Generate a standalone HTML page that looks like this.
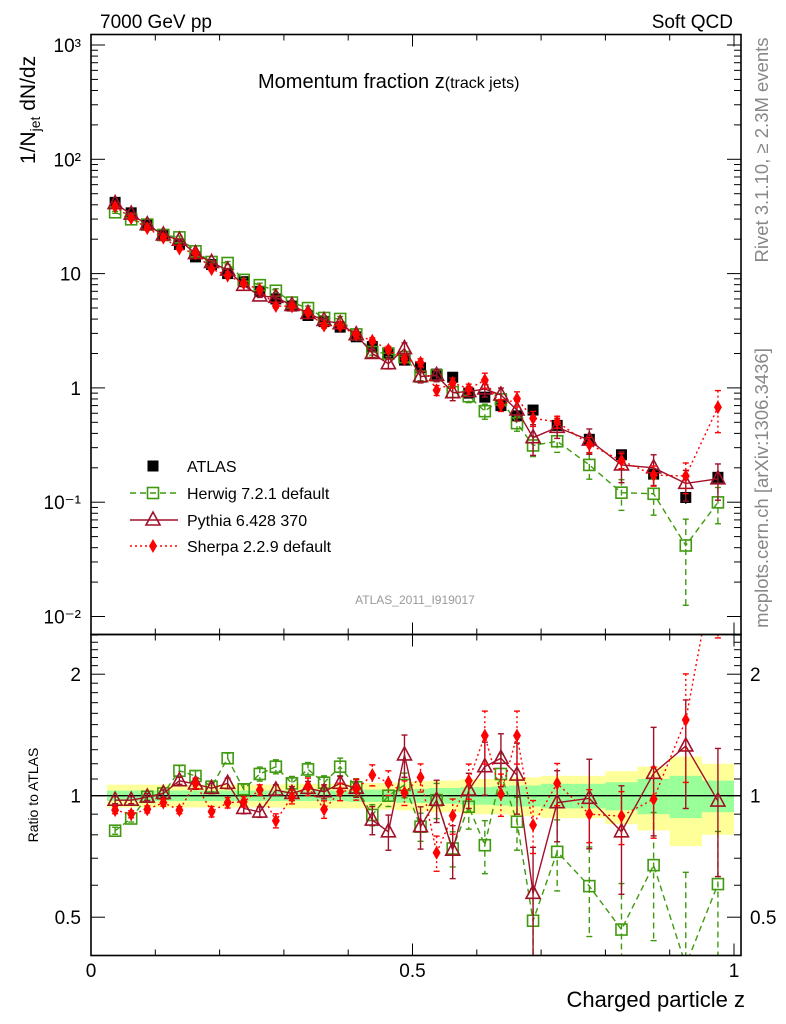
<!DOCTYPE html>
<html><head><meta charset="utf-8"><style>
html,body{margin:0;padding:0;background:#fff;width:786px;height:1024px;overflow:hidden;}
svg{display:block;font-family:"Liberation Sans",sans-serif;}
</style></head><body>
<svg id="chart" width="786" height="1024" viewBox="0 0 786 1024" xmlns="http://www.w3.org/2000/svg">
<text x="100" y="28" font-size="19">7000 GeV pp</text>
<text x="733" y="28" font-size="19" text-anchor="end">Soft QCD</text>
<text x="258" y="88" font-size="20">Momentum fraction <tspan font-size="20">z</tspan><tspan font-size="16">(track jets)</tspan></text>
<text x="415" y="604" font-size="12" fill="#999" text-anchor="middle">ATLAS_2011_I919017</text>
<text transform="translate(768,150) rotate(-90)" font-size="18.5" fill="#888" text-anchor="middle">Rivet 3.1.10, ≥ 2.3M events</text>
<text transform="translate(768,488) rotate(-90)" font-size="18.5" fill="#888" text-anchor="middle">mcplots.cern.ch [arXiv:1306.3436]</text>
<text transform="translate(35,110) rotate(-90)" font-size="21" text-anchor="middle">1/N<tspan font-size="14" dy="5">jet</tspan><tspan dy="-5"> dN/dz</tspan></text>
<text transform="translate(38,795) rotate(-90)" font-size="14" text-anchor="middle">Ratio to ATLAS</text>
<text x="745" y="1007" font-size="22" text-anchor="end">Charged particle z</text>
<g id="bands"></g><g id="marks"></g><g id="axes"></g><g id="legend"></g>
</svg>
<script>
const zBins=[0.0375,0.0625,0.0875,0.1125,0.1375,0.1625,0.1875,0.2125,0.2375,0.2625,0.2875,0.3125,0.3375,0.3625,0.3875,0.4125,0.4375,0.4625,0.4875,0.5125,0.5375,0.5625,0.5875,0.6125,0.6375,0.6625,0.6875,0.725,0.775,0.825,0.875,0.925,0.975];
const binHalf=[0.0125,0.0125,0.0125,0.0125,0.0125,0.0125,0.0125,0.0125,0.0125,0.0125,0.0125,0.0125,0.0125,0.0125,0.0125,0.0125,0.0125,0.0125,0.0125,0.0125,0.0125,0.0125,0.0125,0.0125,0.0125,0.0125,0.0125,0.025,0.025,0.025,0.025,0.025,0.025];
const atlas=[42,34,27,21.5,18,14,12,10,8.5,7,6,5.2,4.3,3.8,3.4,2.8,2.3,2.0,1.75,1.5,1.32,1.24,0.9,0.83,0.7,0.57,0.64,0.47,0.355,0.26,0.176,0.11,0.165];
const statErr=[0.03,0.03,0.03,0.03,0.03,0.03,0.03,0.03,0.03,0.03,0.03,0.03,0.03,0.03,0.03,0.035,0.035,0.035,0.04,0.04,0.045,0.045,0.05,0.05,0.055,0.06,0.06,0.07,0.07,0.08,0.1,0.12,0.09];
const totErr=[0.065,0.065,0.065,0.065,0.065,0.065,0.065,0.065,0.065,0.065,0.065,0.07,0.07,0.07,0.07,0.07,0.075,0.075,0.08,0.085,0.09,0.09,0.1,0.1,0.1,0.11,0.11,0.12,0.12,0.15,0.18,0.25,0.2];
const herwigRatio=[0.819,0.878,0.994,1.013,1.153,1.119,1.053,1.238,1.037,1.132,1.18,1.073,1.162,1.077,1.18,1.049,0.896,1.0,1.063,0.838,0.975,0.74,0.939,0.754,1.132,0.862,0.49,0.726,0.597,0.466,0.673,0.38,0.604];
const herwigErr=[0.02,0.02,0.02,0.02,0.03,0.03,0.03,0.03,0.03,0.04,0.04,0.04,0.04,0.04,0.05,0.05,0.06,0.06,0.07,0.08,0.1,0.1,0.12,0.15,0.12,0.15,0.2,0.2,0.25,0.3,0.35,0.7,0.35];
const pythiaRatio=[0.975,0.975,0.992,1.013,1.089,1.069,1.043,1.073,0.93,0.911,1.033,1.013,1.043,1.023,1.073,1.043,0.87,0.814,1.262,0.838,0.975,0.733,1.033,1.18,1.238,1.125,0.573,0.961,0.985,0.814,1.136,1.328,0.97];
const pythiaErr=[0.02,0.02,0.02,0.02,0.02,0.03,0.03,0.03,0.03,0.03,0.03,0.04,0.04,0.04,0.04,0.05,0.08,0.1,0.12,0.12,0.12,0.15,0.1,0.15,0.15,0.2,0.3,0.2,0.25,0.3,0.3,0.3,0.35];
const sherpaRatio=[0.921,0.9,0.925,0.961,0.921,1.073,0.913,0.961,0.966,1.033,0.867,0.994,1.053,0.925,1.023,1.037,1.125,1.077,1.017,1.11,0.722,0.892,1.089,1.409,1.01,1.409,0.846,1.073,0.9,0.89,0.981,1.541,4.1];
const sherpaErr=[0.02,0.02,0.02,0.02,0.02,0.03,0.03,0.03,0.03,0.03,0.04,0.04,0.05,0.05,0.05,0.06,0.06,0.07,0.07,0.08,0.1,0.1,0.1,0.15,0.12,0.15,0.15,0.12,0.15,0.15,0.2,0.3,0.4];
const mainTicks=["10³","10²","10","1","10⁻¹","10⁻²"];
const ratioTicks=[2,1,0.5];

const NS="http://www.w3.org/2000/svg";
const X0=91,X1=741,PX=643;
const MT=34.5,MB=634.5,RT=634.5,RB=955.5;
const xs=z=>X0+z*PX;
const ym=v=>45+(3-Math.log10(v))*114.3;
const yr=r=>795.7-Math.log2(r)*121.5;
function mk(tag,attrs,parent){const e=document.createElementNS(NS,tag);for(const k in attrs)e.setAttribute(k,attrs[k]);parent.appendChild(e);return e;}
const svg=document.getElementById('chart');
const defs=mk('defs',{},svg);
const cp1=mk('clipPath',{id:'clipMain'},defs);mk('rect',{x:X0,y:MT,width:X1-X0,height:MB-MT},cp1);
const cp2=mk('clipPath',{id:'clipRatio'},defs);mk('rect',{x:X0,y:RT,width:X1-X0,height:RB-RT},cp2);
const bands=document.getElementById('bands');
const marks=document.getElementById('marks');
const axes=document.getElementById('axes');
const legend=document.getElementById('legend');

const bg=mk('g',{'clip-path':'url(#clipRatio)'},bands);


zBins.forEach((z,i)=>{
  const a=xs(z-binHalf[i]),b=xs(z+binHalf[i]);
  const r1=mk('rect',{x:a,y:yr(1+totErr[i]),width:b-a,height:yr(1-totErr[i])-yr(1+totErr[i]),fill:'#ffff99'},bg);
  
  
});
zBins.forEach((z,i)=>{
  const a=xs(z-binHalf[i]),b=xs(z+binHalf[i]);
  const r2=mk('rect',{x:a,y:yr(1+statErr[i]),width:b-a,height:yr(1-statErr[i])-yr(1+statErr[i]),fill:'#99ff99'},bg);
  
  
});
const one=mk('line',{x1:X0,x2:X1,y1:yr(1),y2:yr(1),stroke:'#000','stroke-width':1.3},bands);



function marker(type,x,y,color,g){
  let e;
  if(type==='sq') e=mk('rect',{x:x-5.5,y:y-5.5,width:11,height:11,fill:'#000'},g);
  else if(type==='osq') e=mk('rect',{x:x-5.5,y:y-5.5,width:11,height:11,fill:'#fff','fill-opacity':0,stroke:color,'stroke-width':1.6},g);
  else if(type==='tri') e=mk('polygon',{points:`${x},${y-8} ${x-7},${y+5} ${x+7},${y+5}`,fill:'none',stroke:color,'stroke-width':1.6},g);
  else e=mk('polygon',{points:`${x},${y-7} ${x-4},${y} ${x},${y+7} ${x+4},${y}`,fill:color},g);
  return e;
}
const series=[
  {name:'herwig',ratio:herwigRatio,err:herwigErr,color:'#3f9a0f',dash:'6,4',m:'osq'},
  {name:'pythia',ratio:pythiaRatio,err:pythiaErr,color:'#a01028',dash:'',m:'tri'},
  {name:'sherpa',ratio:sherpaRatio,err:sherpaErr,color:'#ff0000',dash:'2,3',m:'dia'}
];
function drawPanel(clip,yf,isRatio){
  const g=mk('g',{'clip-path':clip},marks);
  
  
  if(!isRatio){
    const ga=mk('g',{},g);
    
    
    zBins.forEach((z,i)=>{
      const v=atlas[i];
      const eb=mk('line',{x1:xs(z),x2:xs(z),y1:yf(v*(1+statErr[i])),y2:yf(v*(1-statErr[i])),stroke:'#000','stroke-width':1.3},ga);
      
      
      const p=marker('sq',xs(z),yf(v),'#000',ga);
      
      
    });
  }
  series.forEach(s=>{
    const gs=mk('g',{},g);
    
    
    const vals=zBins.map((z,i)=>isRatio?s.ratio[i]:s.ratio[i]*atlas[i]);
    const pts=zBins.map((z,i)=>xs(z)+','+yf(vals[i])).join(' ');
    const pl=mk('polyline',{points:pts,fill:'none',stroke:s.color,'stroke-width':1.4,'stroke-dasharray':s.dash},gs);
    
    
    zBins.forEach((z,i)=>{
      const v=vals[i],e=s.err[i];
      const x=xs(z);
      const eb=mk('line',{x1:x,x2:x,y1:yf(v*(1+e)),y2:yf(Math.max(v*(1-e),1e-4)),stroke:s.color,'stroke-width':1.4,'stroke-dasharray':s.dash},gs);
      
      
      const c1=mk('line',{x1:x-3,x2:x+3,y1:yf(v*(1+e)),y2:yf(v*(1+e)),stroke:s.color,'stroke-width':1.4},gs);
      
      
      const c2=mk('line',{x1:x-3,x2:x+3,y1:yf(Math.max(v*(1-e),1e-4)),y2:yf(Math.max(v*(1-e),1e-4)),stroke:s.color,'stroke-width':1.4},gs);
      
      
      const p=marker(s.m,x,yf(v),s.color,gs);
      
      
    });
  });
}
drawPanel('url(#clipMain)',ym,false);
drawPanel('url(#clipRatio)',yr,true);

[[MT,MB],[RT,RB]].forEach(([t,b],k)=>{
  const f=mk('rect',{x:X0,y:t,width:X1-X0,height:b-t,fill:'none',stroke:'#000','stroke-width':1.6},axes);
  
  
  for(let i=0;i<=10;i++){
    const x=xs(i/10),L=(i%5===0)?12:6;
    mk('line',{x1:x,x2:x,y1:b,y2:b-L,stroke:'#000','stroke-width':1},axes);
    mk('line',{x1:x,x2:x,y1:t,y2:t+L,stroke:'#000','stroke-width':1},axes);
  }
});
for(let d=-2;d<=3;d++){
  for(let m=1;m<10;m++){
    const v=m*Math.pow(10,d);const y=ym(v);
    if(y<MT||y>MB)continue;
    const L=m===1?14:7;
    mk('line',{x1:X0,x2:X0+L,y1:y,y2:y,stroke:'#000','stroke-width':1},axes);
    mk('line',{x1:X1,x2:X1-L,y1:y,y2:y,stroke:'#000','stroke-width':1},axes);
  }
}
mainTicks.forEach((lab,i)=>{
  const d=3-i;const y=ym(Math.pow(10,d));
  const t=mk('text',{x:81,y:y+7,'font-size':19,'text-anchor':'end'},axes);
  t.textContent=lab;
  
  
});
[0.4,0.5,0.6,0.7,0.8,0.9,1,1.1,1.2,1.3,1.4,1.5,1.6,1.7,1.8,1.9,2,2.1,2.2,2.3,2.4,2.5].forEach(r=>{
  const y=yr(r);if(y<RT||y>RB)return;
  const L=(r===0.5||r===1||r===2)?14:7;
  mk('line',{x1:X0,x2:X0+L,y1:y,y2:y,stroke:'#000','stroke-width':1},axes);
  mk('line',{x1:X1,x2:X1-L,y1:y,y2:y,stroke:'#000','stroke-width':1},axes);
});
ratioTicks.forEach(r=>{
  const y=yr(r);
  const t=mk('text',{x:81,y:y+7,'font-size':19,'text-anchor':'end'},axes);
  t.textContent=String(r);
  
  
  const t2=mk('text',{x:750,y:y+7,'font-size':19},axes);
  t2.textContent=String(r);
  
  
});
[[0,'0'],[0.5,'0.5'],[1,'1']].forEach(([z,l])=>{
  const t=mk('text',{x:xs(z),y:977,'font-size':19,'text-anchor':'middle'},axes);
  t.textContent=l;
  
  
});
const legItems=[
  {label:'ATLAS',m:'sq',color:'#000',dash:null,y:466},
  {label:'Herwig 7.2.1 default',m:'osq',color:'#3f9a0f',dash:'6,4',y:493},
  {label:'Pythia 6.428 370',m:'tri',color:'#a01028',dash:'',y:520},
  {label:'Sherpa 2.2.9 default',m:'dia',color:'#ff0000',dash:'2,3',y:546}
];
legItems.forEach(it=>{
  const g=mk('g',{},legend);
  
  
  if(it.dash!==null) mk('line',{x1:130,x2:178,y1:it.y,y2:it.y,stroke:it.color,'stroke-width':1.4,'stroke-dasharray':it.dash},g);
  marker(it.m,153,it.y,it.color,g);
  const t=mk('text',{x:187,y:it.y+6,'font-size':16},g);
  t.textContent=it.label;
});
</script>
</body></html>
